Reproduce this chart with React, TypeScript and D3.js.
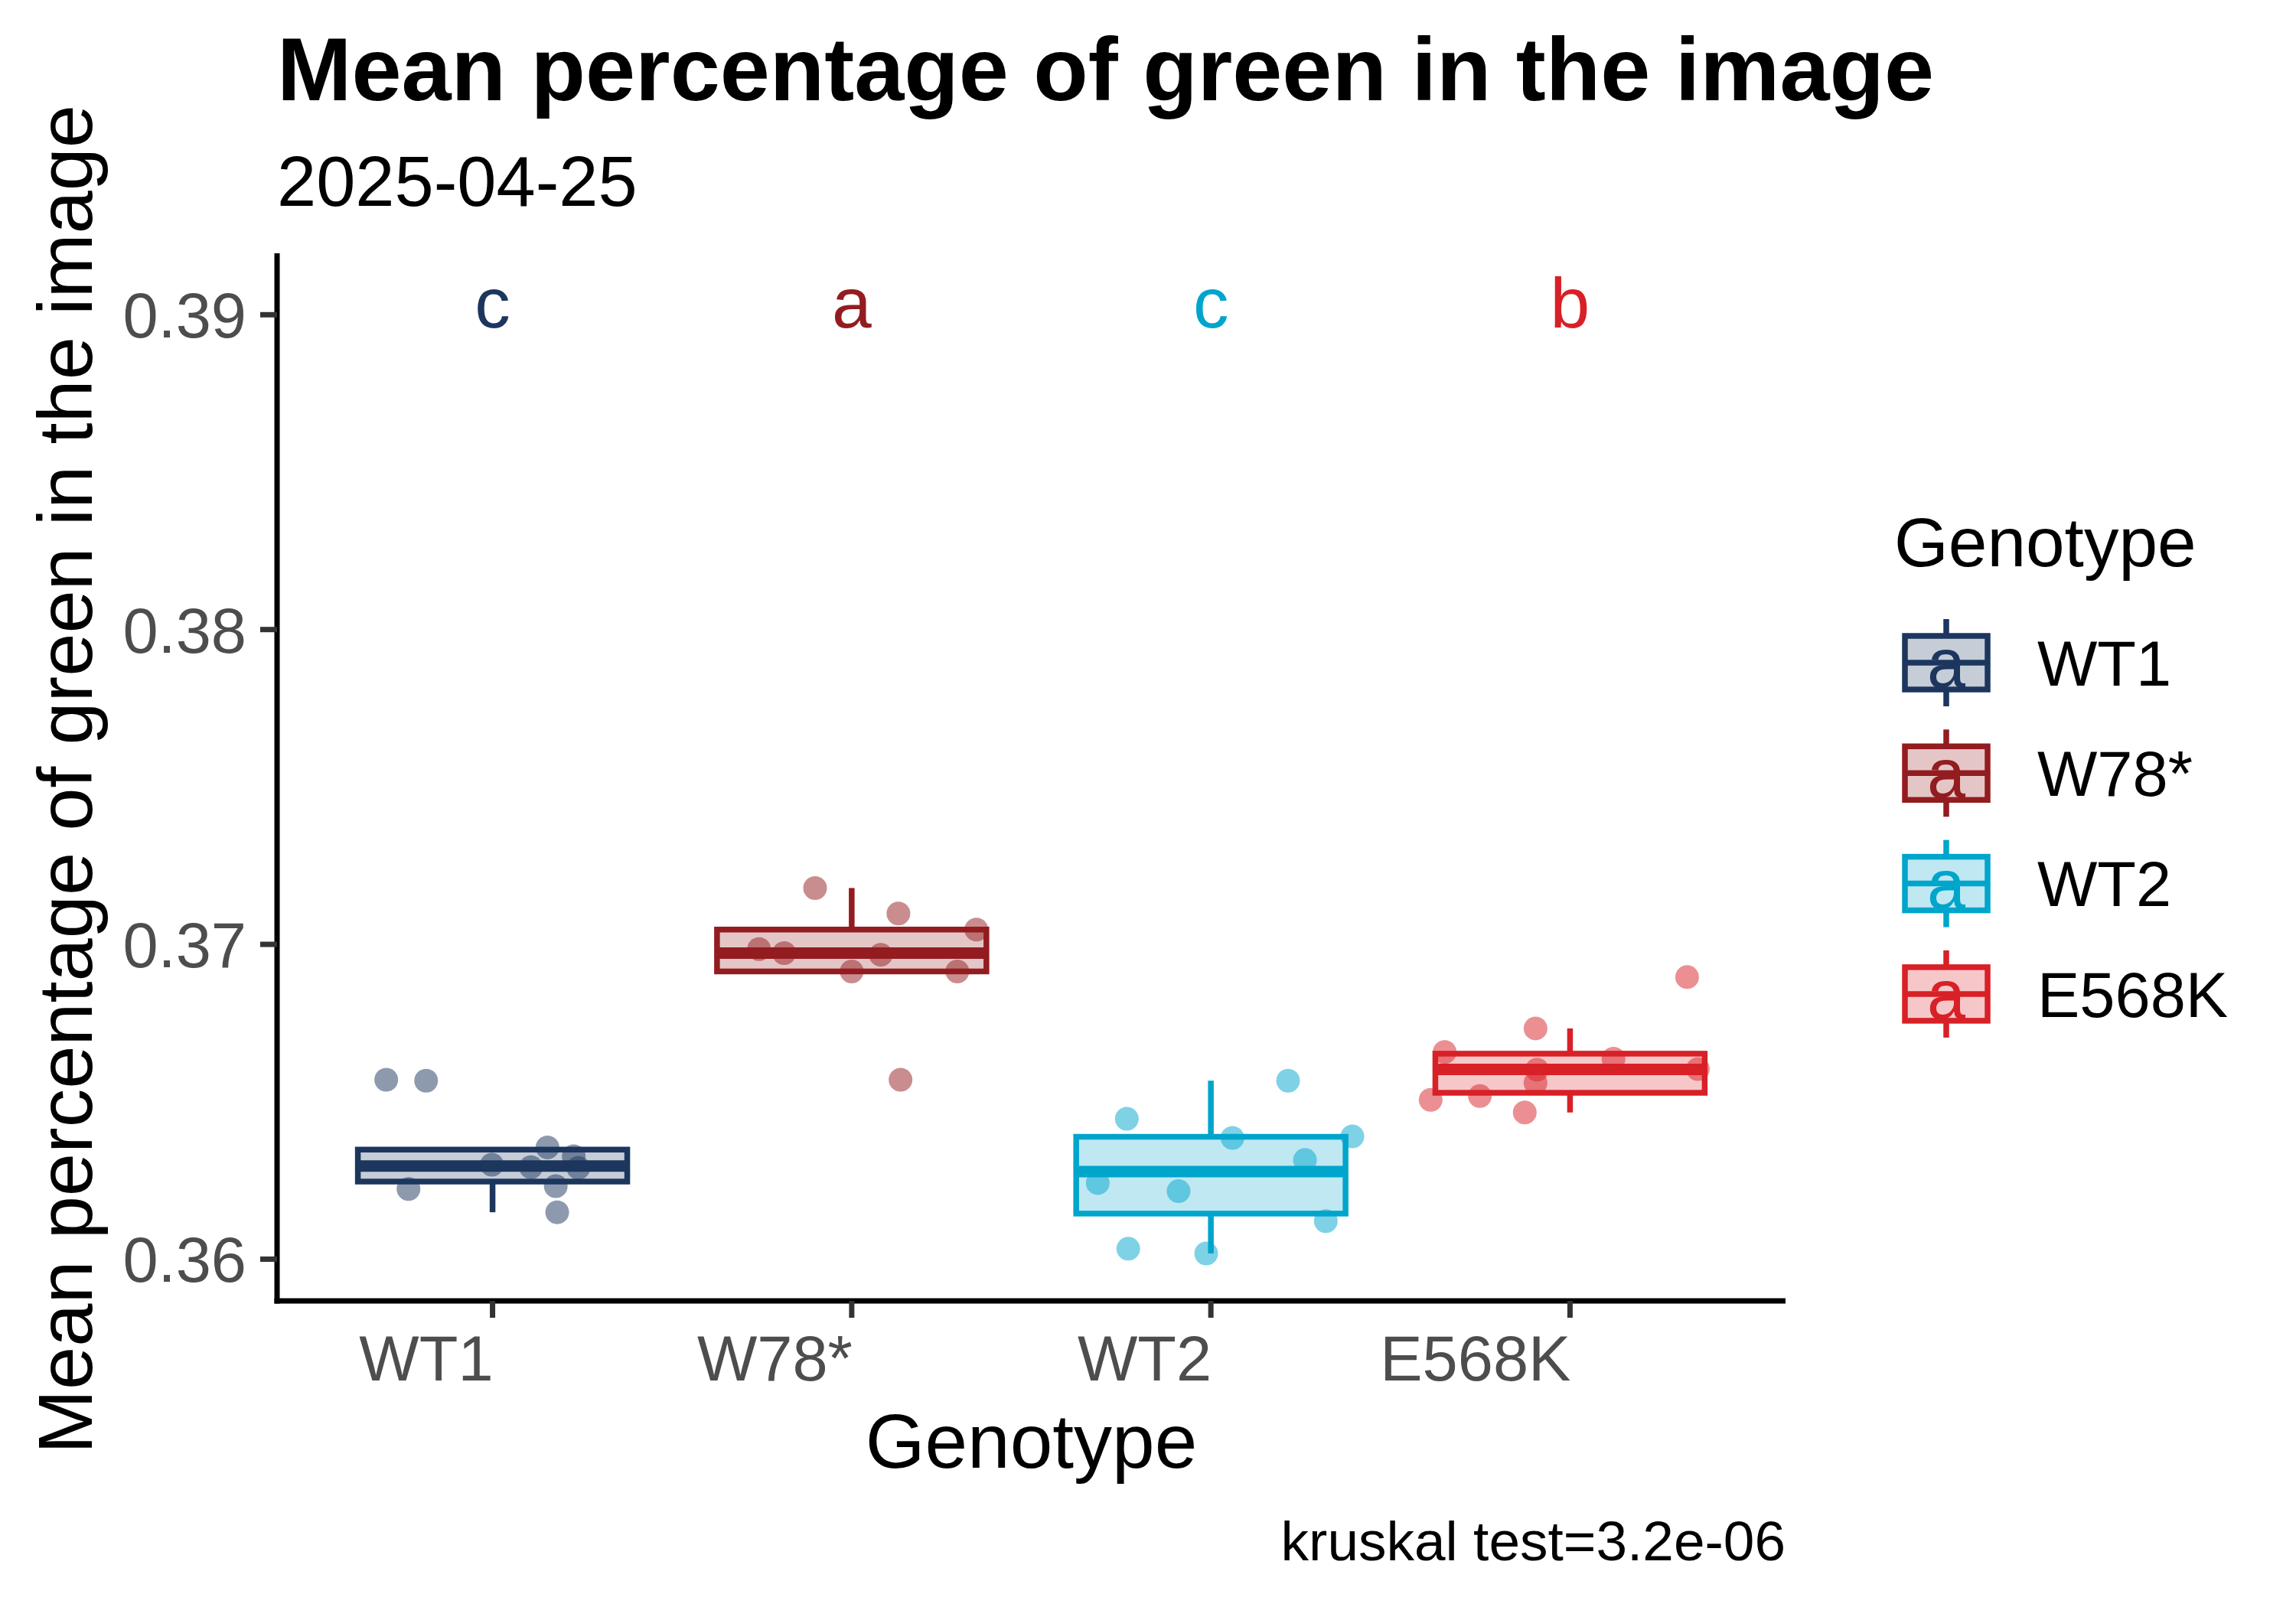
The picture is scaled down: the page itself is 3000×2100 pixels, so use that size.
import * as d3 from "d3";

// ---- data ----
const genotypes = ["WT1", "W78*", "WT2", "E568K"];
const colors = ["#1C365E", "#931C20", "#00A5CB", "#D82027"];
const letters = ["c", "a", "c", "b"];

const wt1Values = [0.3657, 0.36567, 0.36223, 0.363, 0.36292, 0.36355, 0.36327, 0.3629, 0.36232, 0.36149];
const wt1Jitter = [-0.296, -0.185, -0.234, -0.002, 0.107, 0.153, 0.226, 0.239, 0.176, 0.18];

const w78Values = [0.37179, 0.37098, 0.37047, 0.36985, 0.36972, 0.36967, 0.36914, 0.36914, 0.3657];
const w78Jitter = [-0.102, 0.13, 0.347, -0.258, -0.188, 0.081, 0.0, 0.294, 0.136];

const wt2Values = [0.36446, 0.36567, 0.36385, 0.3639, 0.36315, 0.36242, 0.36216, 0.36121, 0.36033, 0.36018];
const wt2Jitter = [-0.234, 0.215, 0.06, 0.394, 0.262, -0.315, -0.09, 0.32, -0.23, -0.013];

const e568kValues = [0.36896, 0.36733, 0.36658, 0.36637, 0.36604, 0.36602, 0.3656, 0.36506, 0.36518, 0.36466];
const e568kJitter = [0.326, -0.096, -0.349, 0.121, 0.356, -0.092, -0.096, -0.388, -0.251, -0.126];

const groupValues = [wt1Values, w78Values, wt2Values, e568kValues];
const groupJitter = [wt1Jitter, w78Jitter, wt2Jitter, e568kJitter];

const letterY = 0.3903;
const yTicks = [0.36, 0.37, 0.38, 0.39];
const title = "Mean percentage of green in the image";
const subtitle = "2025-04-25";
const yTitle = "Mean percentage of green in the image";
const xTitle = "Genotype";
const legendTitle = "Genotype";
const caption = "kruskal test=3.2e-06";

// ---- layout ----
const W = 3000;
const H = 2100;
const panel = { left: 362, right: 2333, top: 337, bottom: 1700 };
const FONT = "'Liberation Sans', Arial, Helvetica, sans-serif";
const LW = 7.5;

function boxStats(vals: number[]) {
  const s = [...vals].sort(d3.ascending);
  const q1 = d3.quantile(s, 0.25) as number;
  const med = d3.quantile(s, 0.5) as number;
  const q3 = d3.quantile(s, 0.75) as number;
  const iqr = q3 - q1;
  const lo = d3.min(s.filter((v) => v >= q1 - 1.5 * iqr)) as number;
  const hi = d3.max(s.filter((v) => v <= q3 + 1.5 * iqr)) as number;
  return { q1, med, q3, lo, hi };
}

export default function App() {
  // discrete x: ggplot-like 0.6 expansion on both sides
  const step = (panel.right - panel.left) / (genotypes.length - 1 + 1.2);
  const x = d3
    .scalePoint<string>()
    .domain(genotypes)
    .range([panel.left + 0.6 * step, panel.right - 0.6 * step]);

  const allVals = [...groupValues.flat(), letterY];
  const [mn, mx] = d3.extent(allVals) as [number, number];
  const pad = (mx - mn) * 0.05;
  const y = d3
    .scaleLinear()
    .domain([mn - pad, mx + pad])
    .range([panel.bottom, panel.top]);

  const boxW = step * 0.75;
  const stats = groupValues.map(boxStats);

  const legendX = 2489;
  const legendKeyW = 108;
  const legendY0 = 866;
  const legendStep = 144.3;

  return (
    <svg
      width={W}
      height={H}
      viewBox={`0 0 ${W} ${H}`}
      style={{ position: "absolute", left: 0, top: 0, background: "#fff" }}
      fontFamily={FONT}
    >
      <rect x={0} y={0} width={W} height={H} fill="#fff" />

      {/* title & subtitle */}
      <text x={362} y={131} fontSize={117} fontWeight="bold" fill="#000">
        {title}
      </text>
      <text x={362} y={269} fontSize={92} fill="#000">
        {subtitle}
      </text>

      {/* boxplots */}
      {genotypes.map((g, i) => {
        const cx = x(g) as number;
        const s = stats[i];
        const c = colors[i];
        return (
          <g key={`box-${g}`}>
            <line x1={cx} x2={cx} y1={y(s.hi)} y2={y(s.q3)} stroke={c} strokeWidth={LW} />
            <line x1={cx} x2={cx} y1={y(s.q1)} y2={y(s.lo)} stroke={c} strokeWidth={LW} />
            <rect
              x={cx - boxW / 2}
              y={y(s.q3)}
              width={boxW}
              height={y(s.q1) - y(s.q3)}
              fill={c}
              fillOpacity={0.25}
              stroke={c}
              strokeWidth={LW}
            />
            <line
              x1={cx - boxW / 2}
              x2={cx + boxW / 2}
              y1={y(s.med)}
              y2={y(s.med)}
              stroke={c}
              strokeWidth={LW * 2}
            />
          </g>
        );
      })}

      {/* jittered points */}
      {genotypes.map((g, i) =>
        groupValues[i].map((v, j) => (
          <circle
            key={`pt-${g}-${j}`}
            cx={(x(g) as number) + groupJitter[i][j] * step}
            cy={y(v)}
            r={15.5}
            fill={colors[i]}
            fillOpacity={0.5}
          />
        ))
      )}

      {/* significance letters */}
      {genotypes.map((g, i) => (
        <text
          key={`let-${g}`}
          x={x(g)}
          y={y(letterY)}
          dy="0.31em"
          textAnchor="middle"
          fontSize={93}
          fill={colors[i]}
        >
          {letters[i]}
        </text>
      ))}

      {/* axes */}
      <line x1={panel.left} x2={panel.left} y1={panel.top - 6} y2={panel.bottom + 3.5} stroke="#000" strokeWidth={7} />
      <line x1={panel.left - 3.5} x2={panel.right} y1={panel.bottom} y2={panel.bottom} stroke="#000" strokeWidth={7} />

      {yTicks.map((t) => (
        <g key={`yt-${t}`}>
          <line x1={panel.left - 22} x2={panel.left} y1={y(t)} y2={y(t)} stroke="#333333" strokeWidth={7} />
          <text x={322} y={y(t)} dy="0.36em" textAnchor="end" fontSize={83} fill="#4D4D4D">
            {d3.format(".2f")(t)}
          </text>
        </g>
      ))}

      {genotypes.map((g) => (
        <g key={`xt-${g}`}>
          <line x1={x(g)} x2={x(g)} y1={panel.bottom} y2={panel.bottom + 22} stroke="#333333" strokeWidth={7} />
          <text x={(x(g) as number) + 1} y={1804} textAnchor="end" fontSize={83} fill="#4D4D4D">
            {g}
          </text>
        </g>
      ))}

      {/* axis titles */}
      <text x={(panel.left + panel.right) / 2} y={1918} textAnchor="middle" fontSize={100} fill="#000">
        {xTitle}
      </text>
      <text
        transform={`translate(120, ${(panel.top + panel.bottom) / 2}) rotate(-90)`}
        textAnchor="middle"
        fontSize={101}
        fill="#000"
      >
        {yTitle}
      </text>

      {/* caption */}
      <text x={panel.right} y={2039} textAnchor="end" fontSize={73} fill="#000">
        {caption}
      </text>

      {/* legend */}
      <text x={2475} y={740} fontSize={91} fill="#000">
        {legendTitle}
      </text>
      {genotypes.map((g, i) => {
        const cy = legendY0 + i * legendStep;
        const cx = legendX + legendKeyW / 2;
        const c = colors[i];
        return (
          <g key={`leg-${g}`}>
            <line x1={cx} x2={cx} y1={cy - 57} y2={cy - 35} stroke={c} strokeWidth={LW} />
            <line x1={cx} x2={cx} y1={cy + 35} y2={cy + 57} stroke={c} strokeWidth={LW} />
            <rect
              x={legendX}
              y={cy - 35}
              width={legendKeyW}
              height={70}
              fill={c}
              fillOpacity={0.25}
              stroke={c}
              strokeWidth={LW}
            />
            <line x1={legendX} x2={legendX + legendKeyW} y1={cy} y2={cy} stroke={c} strokeWidth={LW} />
            <text x={cx} y={cy + 32} textAnchor="middle" fontSize={90} fill={c}>
              a
            </text>
            <text x={2662} y={cy} dy="0.36em" fontSize={83} fill="#000">
              {g}
            </text>
          </g>
        );
      })}
    </svg>
  );
}
